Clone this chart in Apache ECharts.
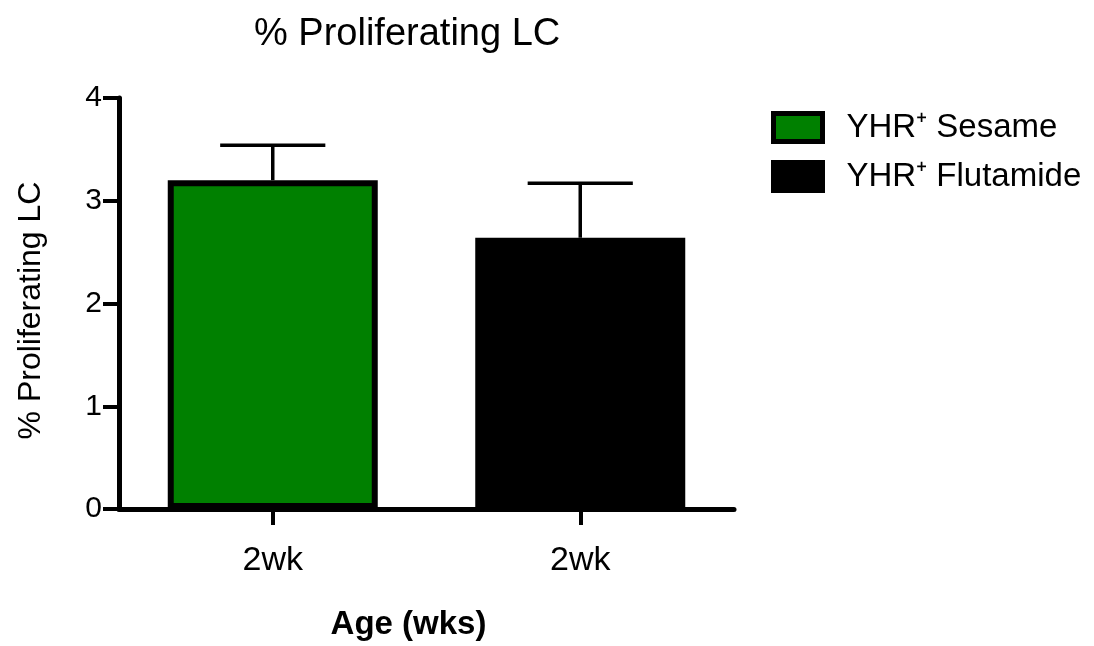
<!DOCTYPE html>
<html>
<head>
<meta charset="utf-8">
<script src="https://cdn.jsdelivr.net/npm/echarts@6/dist/echarts.min.js"></script>
<style>
html,body{margin:0;padding:0;background:#fff;}
#chart{width:1094px;height:646px;}
</style>
</head>
<body>
<div id="chart"></div>
<script>
// ---- data ----
const categories = ['2wk', '2wk'];
const seriesNames = ['YHR\u207A Sesame', 'YHR\u207A Flutamide'];
const sesameValues = [3.2, '-'];
const flutamideValues = ['-', 2.64];
const barMeans = [3.2, 2.64];
const errorUpper = [3.54, 3.17];
const yTicks = [0, 1, 2, 3, 4];

const FONT = '"Liberation Sans", Arial, Helvetica, sans-serif';

const errorData = barMeans.map((m, i) => [i, m, errorUpper[i]]);

const chart = echarts.init(document.getElementById('chart'), null, {renderer: 'canvas'});
chart.setOption({
  animation: false,
  backgroundColor: '#ffffff',
  title: {
    text: '% Proliferating LC',
    left: 249, top: 11,
    textStyle: {fontFamily: FONT, fontSize: 38, fontWeight: 'normal', color: '#000'}
  },
  legend: {
    left: 766, top: 106,
    orient: 'vertical',
    icon: 'rect',
    itemWidth: 49, itemHeight: 28,
    itemGap: 16,
    data: seriesNames,
    itemStyle: {borderColor: '#000', borderWidth: 5},
    textStyle: {fontFamily: FONT, fontSize: 33, color: '#000', padding: [0, 0, 0, 19]}
  },
  grid: {left: 119, top: 98, width: 615, height: 412, containLabel: false},
  xAxis: {
    type: 'category',
    data: categories,
    name: 'Age (wks)',
    nameLocation: 'middle',
    nameGap: 99,
    nameTextStyle: {fontFamily: FONT, fontSize: 33, fontWeight: 'bold', color: '#000', padding: [0, 36, 0, 0]},
    axisLine: {lineStyle: {color: '#000', width: 5}},
    axisTick: {show: true, alignWithLabel: true, length: 16, lineStyle: {color: '#000', width: 4}},
    axisLabel: {fontFamily: FONT, fontSize: 34, color: '#000', margin: 35},
    splitLine: {show: false}
  },
  yAxis: {
    type: 'value',
    min: yTicks[0], max: yTicks[yTicks.length - 1], interval: 1,
    name: '% Proliferating LC',
    nameLocation: 'middle',
    nameGap: 72,
    nameTextStyle: {fontFamily: FONT, fontSize: 32, color: '#000', padding: [0, 14, 0, 0]},
    axisLine: {show: true, lineStyle: {color: '#000', width: 5}},
    axisTick: {show: true, length: 16, lineStyle: {color: '#000', width: 4}},
    axisLabel: {fontFamily: FONT, fontSize: 30, color: '#000', margin: 17},
    splitLine: {show: false}
  },
  series: [
    {
      name: seriesNames[0], type: 'bar', data: sesameValues,
      barWidth: 210, barGap: '-100%',
      itemStyle: {color: '#008000', borderColor: '#000', borderWidth: 6},
      z: 2
    },
    {
      name: seriesNames[1], type: 'bar', data: flutamideValues,
      barWidth: 210, barGap: '-100%',
      itemStyle: {color: '#000', borderColor: '#000', borderWidth: 6},
      z: 2
    },
    {
      type: 'custom',
      data: errorData,
      z: 3,
      silent: true,
      renderItem: function (params, api) {
        const x = api.value(0);
        const lo = api.coord([x, api.value(1)]);
        const hi = api.coord([x, api.value(2)]);
        const half = api.size([1, 0])[0] * 0.171;
        const style = {stroke: '#000', lineWidth: 3.5, fill: null};
        return {
          type: 'group',
          children: [
            {type: 'line', shape: {x1: lo[0], y1: lo[1], x2: hi[0], y2: hi[1]}, style: style},
            {type: 'line', shape: {x1: hi[0] - half, y1: hi[1], x2: hi[0] + half, y2: hi[1]}, style: style}
          ]
        };
      }
    }
  ]
});
</script>
</body>
</html>
